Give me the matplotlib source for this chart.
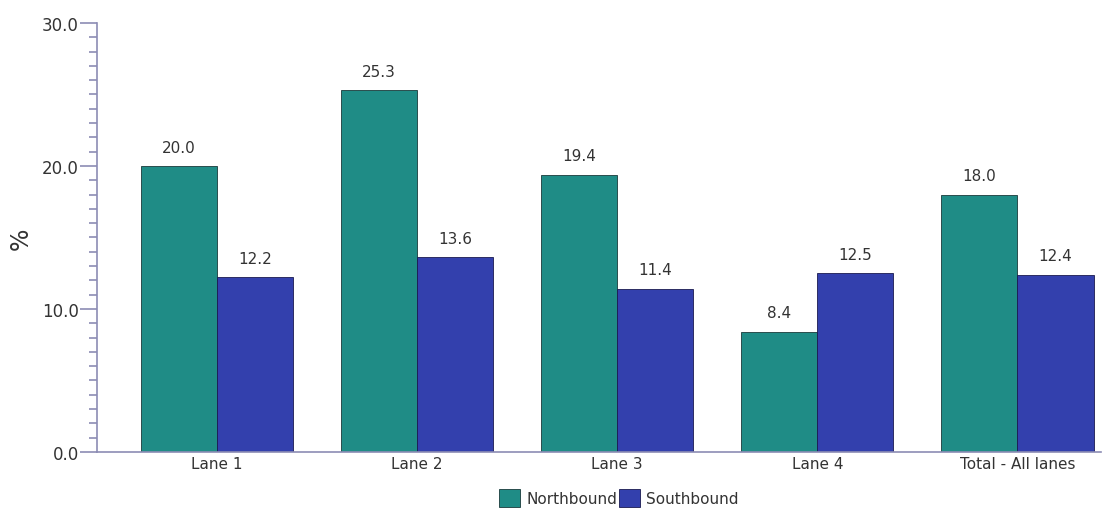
import numpy as np
import matplotlib
matplotlib.use("Agg")
import matplotlib.pyplot as plt
from matplotlib.ticker import MultipleLocator

# data
lanes = ["Lane 1", "Lane 2", "Lane 3", "Lane 4", "Total - All lanes"]
northbound = [20.0, 25.3, 19.4, 8.4, 18.0]
southbound = [12.2, 13.6, 11.4, 12.5, 12.4]

north_color = "#1f8c86"
south_color = "#3340ad"
axis_color = "#8c8cb4"
text_color = "#333333"

fig = plt.figure(figsize=(11.15, 5.1), dpi=100)
ax = fig.add_axes([0.087, 0.112, 0.9, 0.841])

x = np.arange(len(lanes))
w = 0.38
b1 = ax.bar(x - w / 2, northbound, w, color=north_color, edgecolor="#1a3a3a", linewidth=0.6, label="Northbound")
b2 = ax.bar(x + w / 2, southbound, w, color=south_color, edgecolor="#1a1a50", linewidth=0.6, label="Southbound")

for bars in (b1, b2):
    for r in bars:
        ax.text(r.get_x() + r.get_width() / 2, r.get_height() + 0.8, f"{r.get_height():.1f}",
                ha="center", va="bottom", fontsize=11, color=text_color)

ax.set_xlim(-0.6, 4.415)
ax.set_ylim(0, 30)
ax.set_xticks(x)
ax.set_xticklabels(lanes, fontsize=11, color=text_color)
ax.yaxis.set_major_locator(MultipleLocator(10))
ax.yaxis.set_minor_locator(MultipleLocator(1))
ax.set_yticks([0, 10, 20, 30])
ax.set_yticklabels(["0.0", "10.0", "20.0", "30.0"], fontsize=12, color=text_color)
ax.tick_params(axis="y", which="major", length=12, color=axis_color, width=1.2, pad=1)
ax.tick_params(axis="y", which="minor", length=6, color=axis_color, width=1.2)
ax.tick_params(axis="x", length=0, pad=3)
ax.set_ylabel("%", fontsize=17, color=text_color, labelpad=7)

for s in ["top", "right"]:
    ax.spines[s].set_visible(False)
for s in ["left", "bottom"]:
    ax.spines[s].set_color(axis_color)
    ax.spines[s].set_linewidth(1.2)

fig.legend(handles=[b1, b2], labels=["Northbound", "Southbound"], loc="center",
           bbox_to_anchor=(0.555, 0.022), ncol=2, frameon=False, fontsize=11,
           handlelength=1.4, handleheight=1.4, handletextpad=0.4, columnspacing=0.1,
           labelcolor=text_color)

fig.savefig("out.png", dpi=100)
